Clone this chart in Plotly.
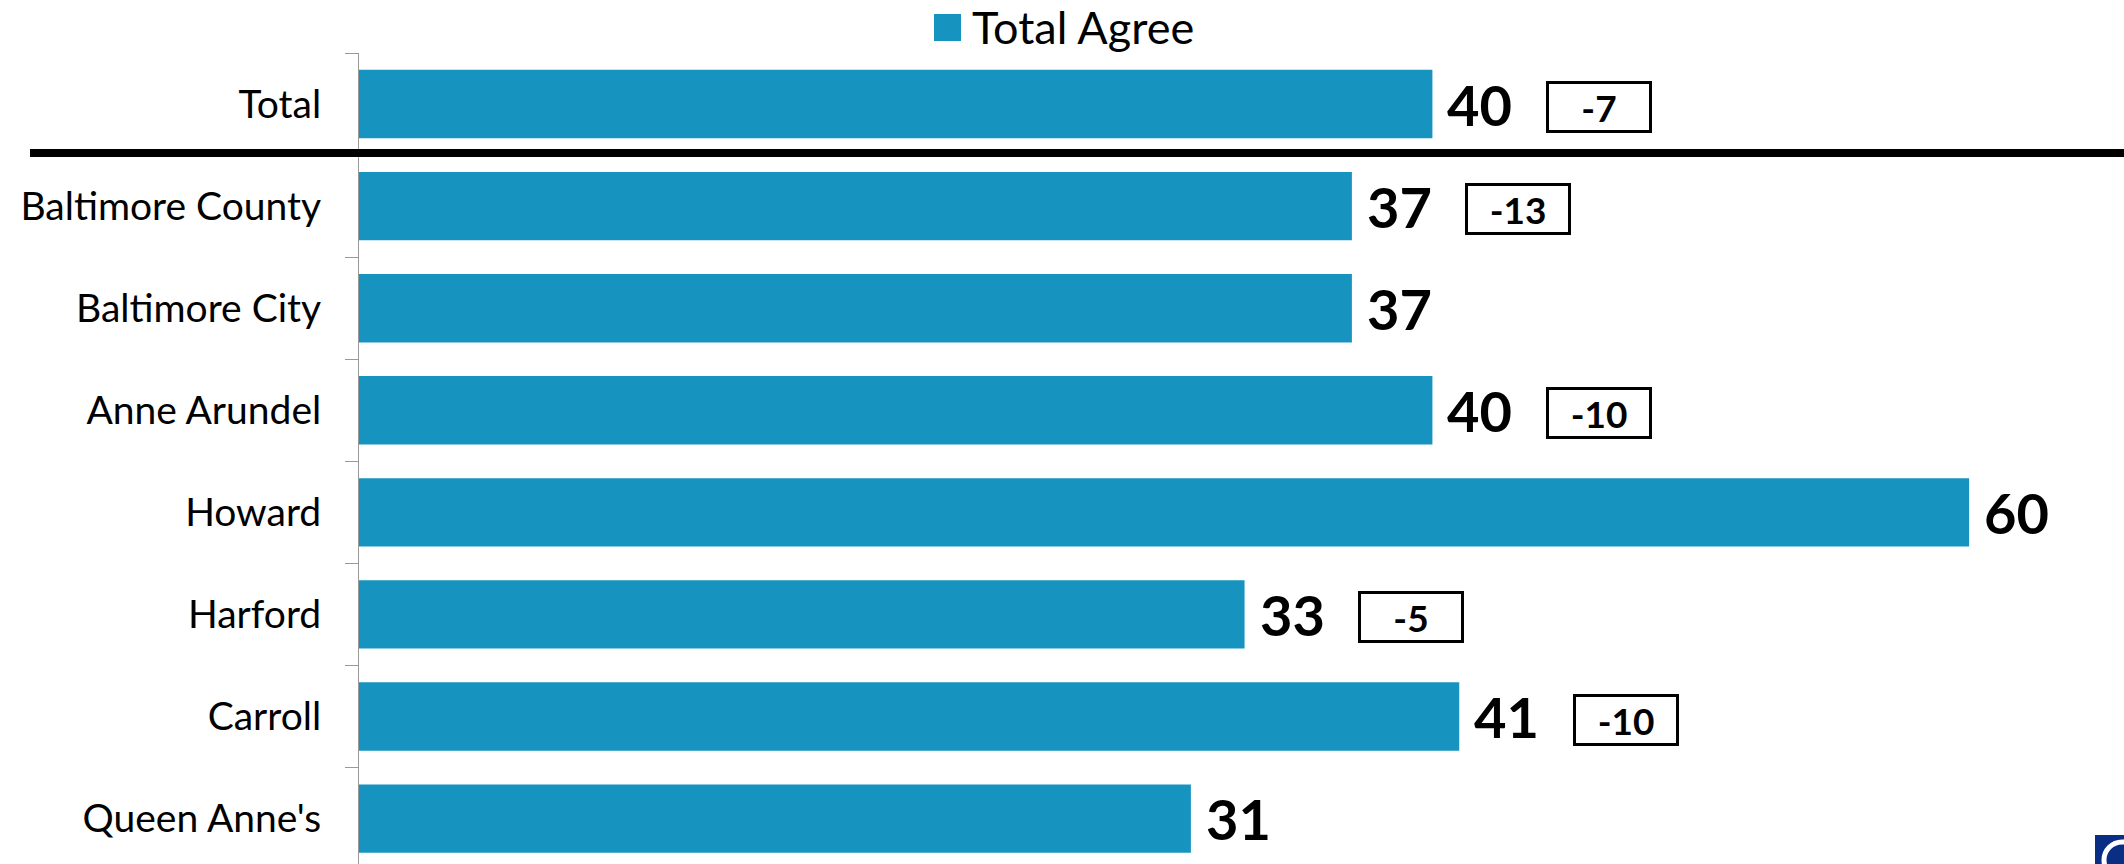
import plotly.graph_objects as go

# data
regions = [
    "Total",
    "Baltimore County",
    "Baltimore City",
    "Anne Arundel",
    "Howard",
    "Harford",
    "Carroll",
    "Queen Anne's",
]
total_agree = [40, 37, 37, 40, 60, 33, 41, 31]
change = ["-7", "-13", None, "-10", None, "-5", "-10", None]

W, H = 2124, 864
BAR_COLOR = "#1793BF"
FONT = "Lato"

fig = go.Figure()
fig.add_trace(
    go.Bar(
        x=total_agree,
        y=regions,
        orientation="h",
        width=0.67,
        marker=dict(color=BAR_COLOR, line=dict(width=0)),
        showlegend=False,
        hoverinfo="skip",
    )
)

# value labels right after each bar
for r, v in zip(regions, total_agree):
    fig.add_annotation(
        x=v, y=r, xref="x", yref="y",
        text=f"<b>{v}</b>",
        showarrow=False,
        xanchor="left", yanchor="middle",
        xshift=13,
        font=dict(family=FONT, size=56, color="black"),
    )

# boxed change labels
for r, v, c in zip(regions, total_agree, change):
    if c is None:
        continue
    fig.add_annotation(
        x=v + 6.2, y=r, xref="x", yref="y",
        text=f"<b>{c}</b>",
        showarrow=False,
        xanchor="center", yanchor="middle",
        yshift=-3,
        width=100, height=46,
        bordercolor="black", borderwidth=3, borderpad=0,
        bgcolor="white",
        font=dict(family=FONT, size=37, color="black"),
    )

# separator under Total
fig.add_shape(
    type="line", xref="paper", yref="paper",
    x0=30 / W, x1=1, y0=1 - 153 / H, y1=1 - 153 / H,
    line=dict(color="black", width=8),
)

# manual legend
fig.add_shape(
    type="rect", xref="paper", yref="paper",
    x0=934 / W, x1=961 / W, y0=1 - 41 / H, y1=1 - 14 / H,
    fillcolor=BAR_COLOR, line=dict(width=0),
)
fig.add_annotation(
    x=970 / W, y=1 - 27 / H, xref="paper", yref="paper",
    text="Total Agree", showarrow=False,
    xanchor="left", yanchor="middle",
    font=dict(family=FONT, size=45, color="black"),
)

# cropped logo corner
fig.add_shape(
    type="rect", xref="paper", yref="paper",
    x0=2095 / W, x1=1, y0=0, y1=1 - 835 / H,
    fillcolor="#0B2E85", line=dict(width=0),
)
fig.add_shape(
    type="circle", xref="paper", yref="paper",
    x0=2104 / W, x1=2140 / W, y0=1 - 878 / H, y1=1 - 842 / H,
    fillcolor="rgba(0,0,0,0)", line=dict(color="white", width=5),
)

fig.update_layout(
    width=W, height=H,
    margin=dict(l=0, r=0, t=0, b=0),
    paper_bgcolor="white",
    plot_bgcolor="white",
    bargap=0.33,
    xaxis=dict(
        domain=[359 / W, 1],
        range=[0, (W - 360) / 26.82],
        visible=False,
    ),
    yaxis=dict(
        domain=[0, 1 - 53 / H],
        type="category",
        categoryorder="array",
        categoryarray=regions,
        range=[7.445, -0.5],
        tickson="boundaries",
        ticks="outside",
        ticklen=13,
        tickcolor="#999999",
        tickwidth=1,
        showline=True,
        linecolor="#999999",
        linewidth=1,
        showgrid=False,
        ticklabelstandoff=29,
        tickfont=dict(family=FONT, size=39, color="black"),
    ),
)

fig.write_html(
    "out.html",
    config={"displayModeBar": False},
    post_script="document.body.style.margin='0';document.body.style.overflow='hidden';",
)
